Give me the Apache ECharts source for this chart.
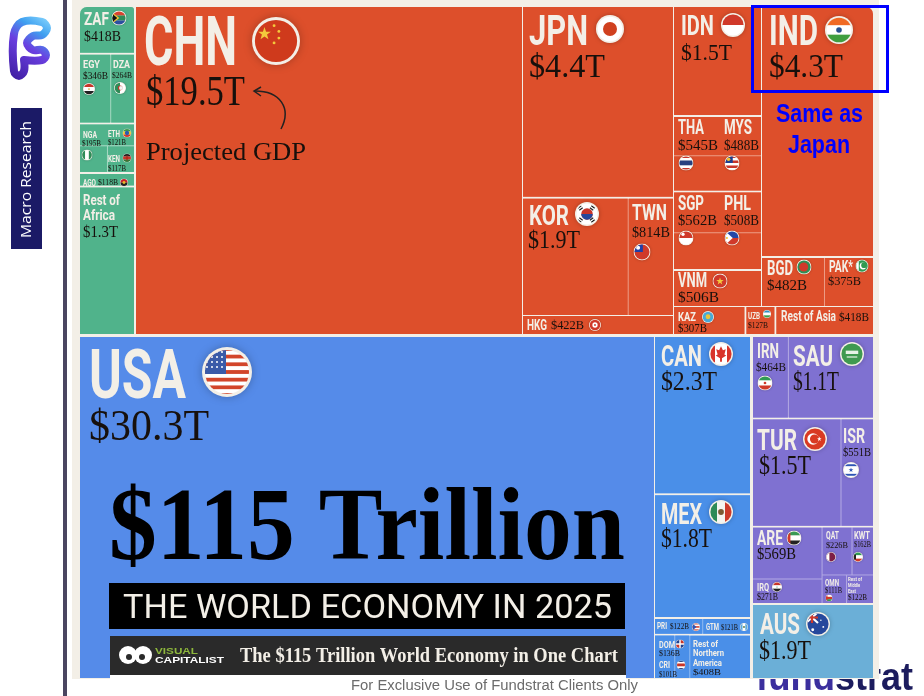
<!DOCTYPE html>
<html>
<head>
<meta charset="utf-8">
<title>The World Economy in 2025</title>
<style>html,body{margin:0;padding:0;background:#fff}#chart{width:924px;height:696px}</style>
<script src="https://cdn.jsdelivr.net/npm/echarts@6/dist/echarts.min.js"></script>
</head>
<body>
<div id="chart"></div>
<script>
// projected GDP, billions of USD
const africaNames = ['ZAF', 'EGY', 'DZA', 'NGA', 'ETH', 'KEN', 'AGO', 'Rest of Africa'];
const africaValues = [418, 346, 264, 195, 121, 117, 118, 1300];
const asiaNames = ['CHN', 'JPN', 'KOR', 'TWN', 'HKG', 'IDN', 'THA', 'MYS', 'SGP', 'PHL', 'VNM', 'IND', 'BGD', 'PAK*', 'KAZ', 'UZB', 'Rest of Asia'];
const asiaValues = [19500, 4400, 1900, 814, 422, 1500, 545, 488, 562, 508, 506, 4300, 482, 375, 307, 127, 418];
const americaNames = ['USA', 'CAN', 'MEX', 'PRI', 'GTM', 'DOM', 'CRI', 'Rest of Northern America'];
const americaValues = [30300, 2300, 1800, 122, 121, 136, 101, 408];
const middleEastNames = ['IRN', 'SAU', 'TUR', 'ISR', 'ARE', 'IRQ', 'QAT', 'KWT', 'OMN', 'Rest of Middle East'];
const middleEastValues = [464, 1100, 1500, 551, 569, 271, 226, 162, 111, 122];
const oceaniaNames = ['AUS'];
const oceaniaValues = [1900];

const allNames = [].concat(africaNames, asiaNames, americaNames, middleEastNames, oceaniaNames);
const allValues = [].concat(africaValues, asiaValues, americaValues, middleEastValues, oceaniaValues);

const CREAM = '#F3EFE7';
const SANS = '"Liberation Sans Narrow","Roboto","Liberation Sans",sans-serif';
const SERIF = '"Liberation Serif",serif';
const ARIAL = '"Liberation Sans",sans-serif';
const DARK = '#17100c';
const GOLDEN = 0.5 * (1 + Math.sqrt(5));

function leaf(name, radius) {
  const node = { name: name, value: allValues[allNames.indexOf(name)] };
  if (radius) node.itemStyle = { borderRadius: radius };
  return node;
}
function group() {
  return { name: '', children: Array.prototype.slice.call(arguments) };
}
function money(v) {
  return v >= 1000 ? '$' + (v / 1000).toFixed(1) + 'T' : '$' + v + 'B';
}

// every block is its own treemap so the split follows the poster
function block(rect, colors, squareRatio, data) {
  const color = colors[0], line = colors[1];
  return {
    type: 'treemap',
    left: rect[0], top: rect[1], width: rect[2], height: rect[3],
    roam: false,
    nodeClick: false,
    silent: true,
    sort: false,
    animation: false,
    visibleMin: 0,
    squareRatio: squareRatio,
    breadcrumb: { show: false },
    label: { show: false },
    upperLabel: { show: false },
    itemStyle: { borderWidth: 0, gapWidth: 1, borderColor: line },
    levels: [
      { color: [color], itemStyle: { gapWidth: 2, borderColor: CREAM, borderWidth: 0 } },
      { itemStyle: { gapWidth: 1, borderColor: line, borderWidth: 0 } },
      { itemStyle: { gapWidth: 1, borderColor: line, borderWidth: 0 } },
      { itemStyle: { gapWidth: 1, borderColor: line, borderWidth: 0 } }
    ],
    data: data,
    z: 2
  };
}

const GREEN = ['#50B38B', '#A6D9C3'];
const RED = ['#DD4F2B', '#EC9C86'];
const BLUE = ['#558BE9', '#93B9F2'];
const SKY = ['#4A8FE8', '#8FBAF2'];
const PURPLE = ['#7F71D1', '#B4ABE4'];
const TEAL = ['#6BAFD7', '#A9D2E8'];

const series = [
  block([80, 7, 54, 327], GREEN, GOLDEN, [
    leaf('ZAF', [7, 3, 0, 0]), group(leaf('EGY'), leaf('DZA')),
    group(leaf('NGA'), group(leaf('ETH'), leaf('KEN'))),
    leaf('AGO'), leaf('Rest of Africa')
  ]),
  block([136, 7, 386, 327], RED, GOLDEN, [leaf('CHN')]),
  block([523, 7, 150, 308], RED, 1, [leaf('JPN'), group(leaf('KOR'), leaf('TWN'))]),
  block([523, 316, 150, 18], RED, GOLDEN, [leaf('HKG')]),
  block([674, 7, 87, 299], RED, GOLDEN, [
    leaf('IDN'), group(leaf('THA'), leaf('MYS')), group(leaf('SGP'), leaf('PHL')), leaf('VNM')
  ]),
  block([762, 7, 111, 299], RED, GOLDEN, [
    leaf('IND', [0, 7, 0, 0]), group(leaf('BGD'), leaf('PAK*'))
  ]),
  block([674, 307, 199, 27], RED, GOLDEN, [leaf('KAZ'), leaf('UZB'), leaf('Rest of Asia')]),
  block([80, 337, 574, 341], BLUE, GOLDEN, [leaf('USA')]),
  block([655, 337, 95, 341], SKY, GOLDEN, [
    leaf('CAN'), leaf('MEX'), group(leaf('PRI'), leaf('GTM')),
    group(group(leaf('DOM'), leaf('CRI')), leaf('Rest of Northern America'))
  ]),
  block([753, 337, 120, 266], PURPLE, 1, [
    group(leaf('IRN'), leaf('SAU')), group(leaf('TUR'), leaf('ISR')),
    group(group(leaf('ARE'), leaf('IRQ')), group(group(leaf('QAT'), leaf('KWT')), group(leaf('OMN'), leaf('Rest of Middle East'))))
  ]),
  block([753, 605, 120, 73], TEAL, GOLDEN, [leaf('AUS')])
];

// label placement: n = name [x, centre y, cap height, width], v = value, f = flag [cx, cy, diameter]
const labelSpots = {
  'ZAF': { n: [84, 18, 13.5, 25], v: [84, 35.5, 10.5, 37], f: [119, 18, 15] },
  'EGY': { n: [83, 64, 8.5, 17], v: [83, 76, 7, 25], f: [89, 89, 12] },
  'DZA': { n: [113, 64, 8.5, 17], v: [112, 76, 5, 20], f: [120, 88, 12] },
  'NGA': { n: [83, 134, 7, 14], v: [82, 144, 5, 19], f: [87, 155, 11] },
  'ETH': { n: [108, 133, 7, 12], v: [108, 142.5, 6, 18], f: [127, 133, 9] },
  'KEN': { n: [108, 158, 7, 12], v: [108, 168, 6, 18], f: [127, 158, 9] },
  'AGO': { n: [83, 182.5, 6, 13], v: [98, 182.5, 5.5, 20], f: [124, 182.5, 8] },
  'Rest of Africa': { lines: [['Rest of', 83, 200, 10, 37], ['Africa', 83, 215, 10, 32]], v: [83, 232, 11, 35] },
  'CHN': { n: [144, 40, 50, 93], v: [146, 91, 28, 99], f: [276, 41, 48] },
  'JPN': { n: [529, 30, 30, 59], v: [529, 66, 23, 76], f: [610, 29, 28] },
  'KOR': { n: [529, 215, 20, 40], v: [528, 240, 17, 52], f: [587, 214, 24] },
  'TWN': { n: [632, 212, 16, 35], v: [632, 232, 10, 38], f: [642, 252, 17] },
  'HKG': { n: [527, 325, 10, 20], v: [551, 325, 9, 33], f: [595, 325, 12] },
  'IDN': { n: [681, 25, 20, 33], v: [681, 52, 16, 51], f: [733, 25, 24] },
  'THA': { n: [678, 127, 14, 26], v: [678, 145, 10, 40], f: [686, 163, 15] },
  'MYS': { n: [724, 127, 14, 28], v: [724, 145, 10, 35], f: [732, 163, 15] },
  'SGP': { n: [678, 203, 14, 26], v: [678, 220, 10, 39], f: [686, 238, 15] },
  'PHL': { n: [724, 203, 14, 27], v: [724, 220, 10, 35], f: [732, 238, 15] },
  'VNM': { n: [678, 280, 14, 29], v: [678, 297, 10, 41], f: [720, 281, 15] },
  'IND': { n: [769, 30, 30, 49], v: [769, 66, 23, 74], f: [839, 30, 28] },
  'BGD': { n: [767, 268, 14, 26], v: [767, 285, 10, 40], f: [804, 267, 15] },
  'PAK*': { n: [829, 266, 12, 24], v: [828, 281, 9, 33], f: [862, 266, 13] },
  'KAZ': { n: [678, 316, 9, 18], v: [678, 328, 8, 29], f: [708, 317, 12] },
  'UZB': { n: [748, 315, 7, 12], v: [748, 325, 6, 20], f: [767, 314, 8] },
  'Rest of Asia': { n: [781, 316, 10, 55], v: [839, 317, 9, 30] },
  'USA': { n: [89, 373, 50, 97], v: [89, 425, 30, 120], f: [227, 372, 50] },
  'CAN': { n: [661, 355, 21, 41], v: [661, 381, 19, 56], f: [721, 354, 24] },
  'MEX': { n: [661, 513, 21, 41], v: [661, 538, 19, 51], f: [721, 512, 24] },
  'PRI': { n: [657, 626, 6.5, 10], v: [670, 626, 6, 19], f: [696, 627, 8] },
  'GTM': { n: [706, 627, 6.5, 13], v: [721, 627, 6, 17], f: [744, 627, 8] },
  'DOM': { n: [659, 644, 7, 16], v: [659, 653, 6, 21], f: [680, 644, 9] },
  'CRI': { n: [659, 665, 6.5, 11], v: [659, 674, 5.5, 18], f: [681, 665, 9] },
  'Rest of Northern America': { lines: [['Rest of', 693, 643, 7, 25], ['Northern', 693, 652, 7, 31], ['America', 693, 662, 7, 29]], v: [693, 672, 6, 28] },
  'IRN': { n: [757, 351, 14, 22], v: [756, 367, 8, 30], f: [765, 383, 15] },
  'SAU': { n: [793, 355, 21, 40], v: [793, 381, 19, 46], f: [852, 354, 24] },
  'TUR': { n: [757, 439, 21, 40], v: [759, 465, 19, 52], f: [815, 439, 24] },
  'ISR': { n: [843, 436, 14, 22], v: [843, 452, 9, 28], f: [851, 470, 16] },
  'ARE': { n: [757, 538, 14, 26], v: [757, 554, 11, 39], f: [794, 538, 15] },
  'IRQ': { n: [757, 587, 8, 12], v: [757, 597, 6.5, 21], f: [777, 587, 10] },
  'QAT': { n: [826, 535, 8, 13], v: [826, 545, 6, 22], f: [831, 557, 10] },
  'KWT': { n: [854, 535, 8, 16], v: [854, 545, 5, 17], f: [858, 557, 10] },
  'OMN': { n: [825, 582, 7, 14], v: [825, 590.5, 6, 17], f: [829, 598, 7] },
  'Rest of Middle East': { lines: [['Rest of', 848, 579, 4.5, 14], ['Middle', 848, 585, 4.5, 12], ['East', 848, 591, 4.5, 8]], v: [848, 598, 5, 19] },
  'AUS': { n: [760, 623, 21, 40], v: [759, 650, 19, 52], f: [818, 624, 24] }
};

const hs = cols => cols.map((c, i) => `<rect y="${i * 100 / cols.length}" width="100" height="${100 / cols.length + 0.5}" fill="${c}"/>`).join('');
const vs = cols => cols.map((c, i) => `<rect x="${i * 100 / cols.length}" width="${100 / cols.length + 0.5}" height="100" fill="${c}"/>`).join('');
const dot = (x, y, r, c) => `<circle cx="${x}" cy="${y}" r="${r}" fill="${c}"/>`;
const poly = (pts, c) => `<polygon points="${pts}" fill="${c}"/>`;
const star = (x, y, r, c) => poly([0, 1, 2, 3, 4, 5, 6, 7, 8, 9].map(i => {
  const a = -Math.PI / 2 + i * Math.PI / 5, q = i % 2 ? r * 0.4 : r;
  return (x + q * Math.cos(a)).toFixed(1) + ',' + (y + q * Math.sin(a)).toFixed(1);
}).join(' '), c);

const flagArt = {
  ZAF: hs(['#d8432f', '#2e8b57', '#2b4fa0']) + poly('0,15 45,50 0,85', '#111') + poly('0,8 52,50 0,92 0,82 38,50 0,18', '#f2c230'),
  EGY: hs(['#c8352a', '#fff', '#222']) + dot(50, 50, 7, '#c9a227'),
  DZA: vs(['#2e8b57', '#fff']) + dot(52, 50, 20, '#c8352a') + dot(58, 50, 16, '#f3f3f3'),
  NGA: vs(['#2e8b57', '#fff', '#2e8b57']),
  ETH: hs(['#3a9a4a', '#f0c92e', '#d33a2a']) + dot(50, 50, 24, '#2b5bb0'),
  KEN: hs(['#222', '#c8352a', '#2e7d3a']) + poly('50,15 64,50 50,85 36,50', '#b3291f'),
  AGO: hs(['#c8202a', '#222']) + dot(50, 50, 18, '#e7b82a'),
  CHN: '<rect width="100" height="100" fill="#cf3a1c"/>' + star(26, 35, 14, '#f3c93c') + dot(46, 18, 3, '#f3c93c') + dot(56, 30, 3, '#f3c93c') + dot(56, 44, 3, '#f3c93c') + dot(46, 54, 3, '#f3c93c'),
  JPN: '<rect width="100" height="100" fill="#fff"/>' + dot(50, 50, 25, '#d0401f'),
  KOR: '<rect width="100" height="100" fill="#fff"/>' + dot(50, 50, 24, '#c8352a') + '<path d="M26 50a24 24 0 0 0 48 0z" fill="#26479c"/><path d="M12 26l14-10M18 34l14-10M68 16l14 10M62 24l14 10M12 74l14 10M18 66l14 10M68 84l14-10M62 76l14-10" stroke="#222" stroke-width="5"/>',
  TWN: '<rect width="100" height="100" fill="#d0392a"/><rect width="55" height="50" fill="#1f3fa8"/>' + dot(27, 25, 12, '#fff'),
  HKG: '<rect width="100" height="100" fill="#d0392a"/>' + dot(50, 50, 22, '#fff') + dot(50, 50, 8, '#d0392a'),
  IDN: hs(['#d0392a', '#fff']),
  THA: hs(['#c8352a', '#fff', '#27407f', '#27407f', '#fff', '#c8352a']),
  MYS: hs(['#c8352a', '#fff', '#c8352a', '#fff', '#c8352a', '#fff']) + '<rect width="55" height="50" fill="#1f3f8f"/>' + dot(27, 25, 12, '#f2c230'),
  SGP: hs(['#d0392a', '#fff']) + dot(30, 25, 11, '#fff'),
  PHL: hs(['#2248a8', '#d0392a']) + poly('0,0 55,50 0,100', '#fff') + dot(16, 50, 7, '#f2c230'),
  VNM: '<rect width="100" height="100" fill="#d0392a"/>' + star(50, 52, 26, '#f3c93c'),
  IND: hs(['#f06a24', '#fff', '#3f9e3f']) + dot(50, 50, 10, '#28508f'),
  BGD: '<rect width="100" height="100" fill="#2e8f55"/>' + dot(48, 50, 30, '#d0392a'),
  'PAK*': '<rect width="100" height="100" fill="#2f9a52"/><rect width="25" height="100" fill="#fff"/>' + dot(58, 50, 26, '#fff') + dot(66, 44, 22, '#2f9a52'),
  KAZ: '<rect width="100" height="100" fill="#49a9d6"/>' + dot(50, 48, 20, '#e9c63a'),
  UZB: hs(['#2f8fc4', '#fff', '#3f9e4f']),
  USA: hs(['#d2452a', '#fff', '#d2452a', '#fff', '#d2452a', '#fff', '#d2452a', '#fff', '#d2452a', '#fff', '#d2452a', '#fff', '#d2452a']) + '<rect width="48" height="54" fill="#3a5aa8"/>' + [10, 20, 30, 40].map(y => [10, 20, 30, 40].map(x => dot(x, y, 2, '#fff')).join('')).join(''),
  CAN: vs(['#d8342a', '#fff', '#fff', '#d8342a']) + poly('50,18 58,34 70,30 64,52 72,56 54,68 54,82 46,82 46,68 28,56 36,52 30,30 42,34', '#d8342a'),
  MEX: vs(['#2e8b57', '#f5f5f0', '#cc3a2a']) + dot(50, 50, 12, '#7b5a32'),
  PRI: hs(['#d0392a', '#fff', '#d0392a', '#fff', '#d0392a']) + poly('0,0 55,50 0,100', '#2f55b5'),
  GTM: vs(['#5aa9e0', '#fff', '#5aa9e0']) + dot(50, 50, 12, '#5e7d4a'),
  DOM: '<rect width="100" height="100" fill="#fff"/><rect width="42" height="42" fill="#1f3f8f"/><rect x="58" width="42" height="42" fill="#c8352a"/><rect y="58" width="42" height="42" fill="#c8352a"/><rect x="58" y="58" width="42" height="42" fill="#1f3f8f"/>',
  CRI: hs(['#27407f', '#fff', '#c8352a', '#c8352a', '#fff', '#27407f']),
  IRN: hs(['#2f9a52', '#fff', '#d0392a']) + dot(50, 50, 9, '#d0392a'),
  SAU: '<rect width="100" height="100" fill="#3f9a50"/><rect x="24" y="36" width="52" height="14" fill="#e6f2e6"/><rect x="28" y="60" width="44" height="5" fill="#e6f2e6"/>',
  TUR: '<rect width="100" height="100" fill="#d93a22"/>' + dot(42, 50, 24, '#fff') + dot(48, 50, 19, '#d93a22') + star(68, 50, 10, '#fff'),
  ISR: '<rect width="100" height="100" fill="#fff"/><rect y="14" width="100" height="12" fill="#2f55b5"/><rect y="74" width="100" height="12" fill="#2f55b5"/>' + star(50, 50, 16, '#2f55b5'),
  ARE: hs(['#3a9a55', '#fff', '#222']) + '<rect width="26" height="100" fill="#d0392a"/>',
  IRQ: hs(['#c8352a', '#fff', '#222']) + dot(50, 50, 6, '#2e8b57'),
  QAT: '<rect width="100" height="100" fill="#7d1e45"/><rect width="34" height="100" fill="#fff"/>',
  KWT: hs(['#2f9a52', '#fff', '#d0392a']) + poly('0,0 30,30 30,70 0,100', '#222'),
  OMN: hs(['#fff', '#d0392a', '#2f9a52']) + '<rect width="28" height="100" fill="#d0392a"/>',
  AUS: '<rect width="100" height="100" fill="#26489c"/><rect width="50" height="46" fill="#2a3f8f"/><path d="M0 0L50 46M50 0L0 46" stroke="#fff" stroke-width="9"/><path d="M25 0V46M0 23H50" stroke="#d0392a" stroke-width="9"/>' + dot(72, 62, 4, '#fff') + dot(62, 34, 3, '#fff') + dot(28, 74, 6, '#fff')
};

function flagUri(key) {
  const svg = '<svg xmlns="http://www.w3.org/2000/svg" width="100" height="100" viewBox="0 0 100 100">' +
    '<defs><clipPath id="c"><circle cx="50" cy="50" r="44"/></clipPath></defs>' +
    '<circle cx="50" cy="50" r="50" fill="#F3EFE7"/><g clip-path="url(#c)">' + flagArt[key] + '</g></svg>';
  return 'data:image/svg+xml;charset=utf-8,' + encodeURIComponent(svg);
}

const measure = document.createElement('canvas').getContext('2d');

// text squeezed to the width it has on the poster, cy is the centre of the capitals
function fitText(str, family, weight, size, x, cy, width, fill, z) {
  measure.font = weight + ' ' + size + 'px ' + family;
  const lift = family === SANS ? 0.115 : 0.065;
  return {
    type: 'text', x: x, y: cy + size * lift, scaleX: width / measure.measureText(str).width, z: z === undefined ? 10 : z,
    style: { text: str, x: 0, y: 0, fontFamily: family, fontWeight: weight, fontSize: size, fill: fill, textAlign: 'left', textVerticalAlign: 'middle', align: 'left', verticalAlign: 'middle' }
  };
}
function nameText(str, x, cy, cap, width) {
  return fitText(str, SANS, 'bold', cap / 0.72, x, cy, width, CREAM);
}
function valueText(str, x, cy, cap, width) {
  return fitText(str, SERIF, 'normal', cap / 0.676, x, cy, width, DARK);
}

const overlay = [];
allNames.forEach(function (name, i) {
  const spot = labelSpots[name];
  if (spot.lines) spot.lines.forEach(l => overlay.push(nameText(l[0], l[1], l[2], l[3], l[4])));
  if (spot.n) overlay.push(nameText(name, spot.n[0], spot.n[1], spot.n[2], spot.n[3]));
  overlay.push(valueText(money(allValues[i]), spot.v[0], spot.v[1], spot.v[2], spot.v[3]));
  if (spot.f) {
    const d = spot.f[2];
    overlay.push({
      type: 'image', z: 10,
      style: { image: flagUri(name), x: spot.f[0] - d / 2, y: spot.f[1] - d / 2, width: d, height: d, shadowBlur: d / 6, shadowColor: 'rgba(0,0,0,0.25)' }
    });
  }
});

const logoGradient = new echarts.graphic.LinearGradient(0, 1, 1, 0, [
  { offset: 0, color: '#3b1a9c' }, { offset: 0.5, color: '#6a3fe0' }, { offset: 0.75, color: '#3fa0f0' }, { offset: 1, color: '#8fdcff' }
]);

const page = [
  // sits under the poster, its top is cut off by it
  fitText('fund', ARIAL, 'bold', 38, 756, 677, 79, '#3b2f9e', 0),
  fitText('strat', ARIAL, 'bold', 38, 835, 677, 78, '#1c1c5e', 0),
  { type: 'rect', z: 1, shape: { x: 72, y: 0, width: 807, height: 679 }, style: { fill: CREAM } },
  { type: 'rect', z: 1, shape: { x: 63, y: 0, width: 4, height: 696 }, style: { fill: '#4A4560' } },
  { type: 'polyline', z: 1, shape: { smooth: 0.35, points: [[24, 60], [24, 71], [19, 76], [14, 71], [14, 34], [22, 22], [42, 22], [47, 28], [42, 35], [33, 36], [27, 43], [33, 50], [42, 50], [46, 55], [42, 60], [24, 60]] }, style: { stroke: logoGradient, lineWidth: 8, fill: 'none', lineCap: 'round', lineJoin: 'round' } },
  { type: 'rect', z: 1, shape: { x: 11, y: 108, width: 31, height: 141 }, style: { fill: '#1B1A66' } },
  Object.assign(fitText('Macro Research', '"Open Sans","Liberation Sans",sans-serif', 'normal', 15, 27, 237, 117, '#fff'), { rotation: Math.PI / 2 }),

  fitText('Projected GDP', SERIF, 'normal', 26, 146, 151, 160, DARK),
  { type: 'bezierCurve', z: 10, shape: { x1: 281, y1: 129, cpx1: 292, cpy1: 108, cpx2: 280, cpy2: 91, x2: 255, y2: 91 }, style: { stroke: '#222', lineWidth: 1.5, fill: 'none' } },
  { type: 'polyline', z: 10, shape: { points: [[261, 87], [254, 91], [261, 96]] }, style: { stroke: '#222', lineWidth: 1.5, fill: 'none' } },

  fitText('$115 Trillion', SERIF, 'bold', 103, 109, 526, 516, '#000'),
  { type: 'rect', z: 10, shape: { x: 109, y: 583, width: 516, height: 46 }, style: { fill: '#000' } },
  fitText('THE WORLD ECONOMY IN 2025', SANS, 'normal', 34, 123, 606, 489, CREAM),
  { type: 'rect', z: 10, shape: { x: 110, y: 636, width: 516, height: 39 }, style: { fill: '#2A2A2A' } },
  { type: 'rect', z: 10, shape: { x: 110, y: 675, width: 516, height: 4 }, style: { fill: '#fff' } },
  { type: 'circle', z: 10, shape: { cx: 128, cy: 655, r: 9 }, style: { fill: '#fff' } },
  { type: 'circle', z: 10, shape: { cx: 143, cy: 655, r: 9 }, style: { fill: '#fff' } },
  { type: 'circle', z: 10, shape: { cx: 129, cy: 657, r: 3 }, style: { fill: '#2A2A2A' } },
  { type: 'circle', z: 10, shape: { cx: 142, cy: 657, r: 3 }, style: { fill: '#2A2A2A' } },
  fitText('VISUAL', ARIAL, 'bold', 9.5, 155, 651, 43, '#8DB63C'),
  fitText('CAPITALIST', ARIAL, 'bold', 9.5, 155, 660, 69, '#fff'),
  fitText('The $115 Trillion World Economy in One Chart', SERIF, 'bold', 20, 240, 656, 378, CREAM),

  fitText('For Exclusive Use of Fundstrat Clients Only', ARIAL, 'normal', 14, 351, 685, 287, '#6b6b6b'),

  { type: 'rect', z: 11, shape: { x: 752.5, y: 6.5, width: 135, height: 85 }, style: { fill: 'none', stroke: '#0000FF', lineWidth: 3 } },
  fitText('Same as', ARIAL, 'bold', 25, 776, 113, 87, '#0000FF'),
  fitText('Japan', ARIAL, 'bold', 25, 788, 144, 62, '#0000FF')
];

const chart = echarts.init(document.getElementById('chart'));
chart.setOption({
  backgroundColor: '#fff',
  animation: false,
  tooltip: { show: false },
  series: series,
  graphic: { elements: page.concat(overlay) }
});
window.addEventListener('resize', function () { chart.resize(); });
</script>
</body>
</html>
